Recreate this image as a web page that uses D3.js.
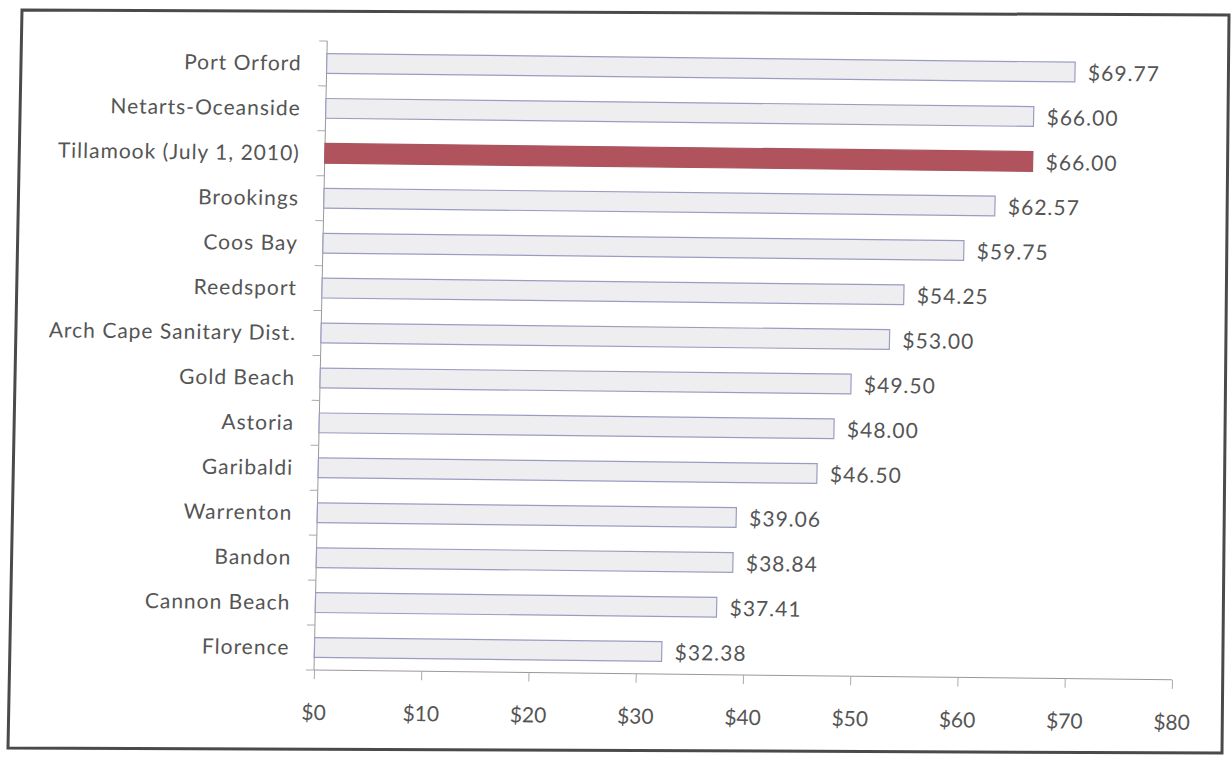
<!DOCTYPE html>
<html>
<head>
<meta charset="utf-8">
<script src="https://cdn.jsdelivr.net/npm/d3@7"></script>
<style>
  body { margin: 0; background: #fff; }
  svg { display: block; }
  text { font-family: Lato, "Open Sans", sans-serif; fill: #555; }
</style>
</head>
<body>
<div id="chart"></div>
<script>
// data, top to bottom as in the picture
var towns = ["Port Orford", "Netarts-Oceanside", "Tillamook (July 1, 2010)", "Brookings",
  "Coos Bay", "Reedsport", "Arch Cape Sanitary Dist.", "Gold Beach", "Astoria",
  "Garibaldi", "Warrenton", "Bandon", "Cannon Beach", "Florence"];
var rates = [69.77, 66.00, 66.00, 62.57, 59.75, 54.25, 53.00, 49.50, 48.00, 46.50,
  39.06, 38.84, 37.41, 32.38];
var highlight = "Tillamook (July 1, 2010)";
var xTicks = [0, 10, 20, 30, 40, 50, 60, 70, 80];

var width = 1231, height = 762;
var margin = {top: 41, left: 314, right: 59, bottom: 92};
var innerWidth = 858, innerHeight = height - margin.top - margin.bottom;

var svg = d3.select("#chart").append("svg")
    .attr("width", width)
    .attr("height", height);

// the scan is a bit crooked: frame outline
var frame = [[22, 10], [1229, 15], [1222, 753], [8, 748]];
svg.append("path")
    .attr("d", d3.line()(frame) + "Z")
    .attr("fill", "none")
    .attr("stroke", "#4a4a4a")
    .attr("stroke-width", 3);

var skew = svg.append("g")
    .attr("transform", "matrix(1,0.0115,-0.021,1," + (0.021 * 670) + "," + (-0.0115 * 314) + ")");

var g = skew.append("g")
    .attr("transform", "translate(" + margin.left + "," + margin.top + ")");

var x = d3.scaleLinear().domain([0, 80]).range([0, innerWidth]);
var y = d3.scaleBand().domain(towns).range([0, innerHeight]).paddingInner(0.56).paddingOuter(0.28);

// x axis
var xAxis = g.append("g")
    .attr("transform", "translate(0," + innerHeight + ")")
    .call(d3.axisBottom(x).tickValues(xTicks).tickSize(9).tickPadding(26)
      .tickFormat(function(d) { return "$" + d; }));
xAxis.select(".domain").attr("stroke", "#999").attr("d", "M0,0H" + innerWidth);
xAxis.selectAll(".tick line").attr("stroke", "#aaa");
xAxis.selectAll(".tick text").attr("font-size", 21).attr("fill", "#555");

// y axis: line plus ticks between categories
g.append("line")
    .attr("x1", 0).attr("x2", 0)
    .attr("y1", 0).attr("y2", innerHeight)
    .attr("stroke", "#999");
var step = y.step();
var bounds = d3.range(towns.length + 1).map(function(i) { return y(towns[0]) - step * y.paddingOuter() + i * step; });
g.selectAll(".ytick")
    .data(bounds)
    .enter().append("line")
    .attr("class", "ytick")
    .attr("x1", -8).attr("x2", 0)
    .attr("y1", function(d) { return d; })
    .attr("y2", function(d) { return d; })
    .attr("stroke", "#aaa");

g.selectAll(".cat")
    .data(towns)
    .enter().append("text")
    .attr("class", "cat")
    .attr("x", -25)
    .attr("y", function(d) { return y(d) + y.bandwidth() / 2; })
    .attr("dy", "0.35em")
    .attr("text-anchor", "end")
    .attr("font-size", 21)
    .attr("letter-spacing", 1)
    .attr("fill", "#4a4a4a")
    .text(function(d) { return d; });

// bars
g.selectAll(".bar")
    .data(towns)
    .enter().append("rect")
    .attr("class", "bar")
    .attr("x", 0)
    .attr("y", function(d) { return y(d); })
    .attr("width", function(d, i) { return x(rates[i]); })
    .attr("height", y.bandwidth())
    .attr("fill", function(d) { return d === highlight ? "#b0535c" : "#eeeef1"; })
    .attr("stroke", function(d) { return d === highlight ? "#a85560" : "#9a9dc2"; })
    .attr("stroke-width", 1.2);

// value labels
g.selectAll(".val")
    .data(towns)
    .enter().append("text")
    .attr("class", "val")
    .attr("x", function(d, i) { return x(rates[i]) + 13; })
    .attr("y", function(d) { return y(d) + y.bandwidth() / 2; })
    .attr("dy", "0.4em")
    .attr("font-size", 21)
    .attr("letter-spacing", 1)
    .attr("fill", "#555")
    .text(function(d, i) { return "$" + rates[i].toFixed(2); });
</script>
</body>
</html>
